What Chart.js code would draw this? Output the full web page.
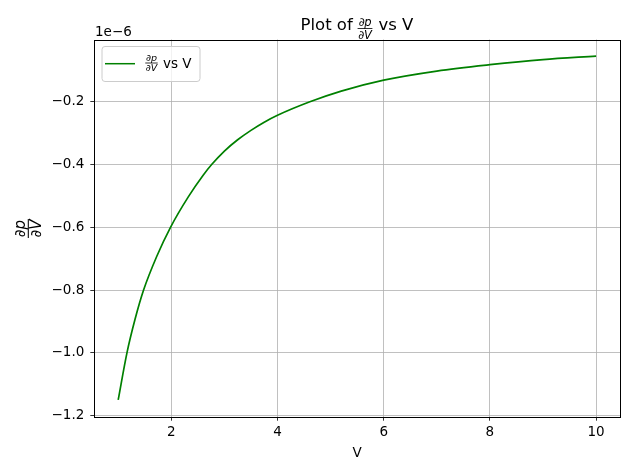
<!DOCTYPE html>
<html>
<head>
<meta charset="utf-8">
<script src="https://cdn.jsdelivr.net/npm/chart.js@4"></script>
<style>
  html, body { margin: 0; padding: 0; background: #ffffff; }
  #wrap { width: 630px; height: 470px; }
</style>
</head>
<body>
<div id="wrap"><canvas id="chart" width="630" height="470"></canvas></div>
<script>
// ==================== données ====================
// V values and dp/dV values (axis units: x 1e-6)
const volumes = [1.0, 1.165, 1.316, 1.478, 1.725, 1.985, 2.32, 2.6, 2.76, 3.0, 3.25, 3.5, 3.75, 4.0, 4.61, 5.2, 6.0, 7.0, 8.0, 9.0, 10.0];
const dpdV = [-1.15, -1.0, -0.894, -0.8, -0.693, -0.6, -0.503, -0.434, -0.4, -0.357, -0.321, -0.291, -0.265, -0.243, -0.2, -0.166, -0.131, -0.102, -0.0818, -0.0655, -0.0543];
const xTicks = [2, 4, 6, 8, 10];
const yTicks = [-1.2, -1.0, -0.8, -0.6, -0.4, -0.2];
const offsetText = "1e\u22126";

const FONT = "'DejaVu Sans', sans-serif";
const GREEN = "#008000";

// fraction dp/dV drawn like mathtext
function drawFrac(ctx, cx, barY, size) {
  ctx.font = "italic " + size + "px " + FONT;
  const num = "\u2202p", den = "\u2202V";
  const w = Math.max(ctx.measureText(num).width, ctx.measureText(den).width) + 1;
  ctx.textAlign = "center";
  ctx.textBaseline = "alphabetic";
  ctx.fillText(num, cx, barY - size * 0.2);
  ctx.textBaseline = "top";
  ctx.fillText(den, cx, barY + size * 0.12);
  ctx.lineWidth = Math.max(0.8, size * 0.07);
  ctx.beginPath();
  ctx.moveTo(cx - w / 2, barY);
  ctx.lineTo(cx + w / 2, barY);
  ctx.stroke();
  return w;
}

const decorPlugin = {
  id: "decor",
  afterDraw(chart) {
    const ctx = chart.ctx;
    const a = chart.chartArea;
    ctx.save();
    ctx.fillStyle = "#000";
    ctx.strokeStyle = "#000";

    // spines
    ctx.lineWidth = 1;
    ctx.strokeRect(Math.round(a.left) + 0.5, Math.round(a.top) + 0.5,
      Math.round(a.right - a.left), Math.round(a.bottom - a.top));

    // titre
    ctx.font = "16.5px " + FONT;
    ctx.textAlign = "left";
    ctx.textBaseline = "alphabetic";
    ctx.fillText("Plot of", 300.5, 30);
    drawFrac(ctx, 365, 28.5, 11.5);
    ctx.font = "16.5px " + FONT;
    ctx.textAlign = "left";
    ctx.textBaseline = "alphabetic";
    ctx.fillText("vs V", 378.5, 30);

    // offset text
    ctx.font = "13.5px " + FONT;
    ctx.fillText(offsetText, 95, 36);

    // x title
    ctx.textAlign = "center";
    ctx.fillText("V", 357, 457);

    // y title (rotated fraction)
    ctx.save();
    ctx.translate(28.3, 228.5);
    ctx.rotate(-Math.PI / 2);
    drawFrac(ctx, 0, 0, 15);
    ctx.restore();

    // legend
    ctx.fillStyle = "rgba(255,255,255,0.8)";
    ctx.strokeStyle = "#cccccc";
    ctx.lineWidth = 1;
    ctx.beginPath();
    ctx.roundRect(102, 46.5, 98, 35, 3);
    ctx.fill();
    ctx.stroke();
    ctx.strokeStyle = GREEN;
    ctx.lineWidth = 1.5;
    ctx.beginPath();
    ctx.moveTo(105, 63.7);
    ctx.lineTo(135, 63.7);
    ctx.stroke();
    ctx.fillStyle = "#000";
    ctx.strokeStyle = "#000";
    drawFrac(ctx, 151.5, 63, 9.5);
    ctx.font = "13.5px " + FONT;
    ctx.textAlign = "left";
    ctx.textBaseline = "middle";
    ctx.fillText("vs V", 163, 64.5);

    ctx.restore();
  }
};

const ctx = document.getElementById("chart").getContext("2d");
const chart = new Chart(ctx, {
  type: "scatter",
  data: {
    datasets: [
      {
        label: "\u2202p/\u2202V vs V",
        data: volumes.map((v, i) => ({ x: v, y: dpdV[i] })),
        showLine: true,
        borderColor: GREEN,
        backgroundColor: GREEN,
        borderWidth: 1.7,
        pointRadius: 0,
        cubicInterpolationMode: "monotone",
      },
    ],
  },
  options: {
    responsive: false,
    animation: false,
    layout: { padding: { left: 0, top: 39.5, right: 10, bottom: 0 } },
    plugins: {
      legend: { display: false },
      title: { display: false },
      tooltip: { enabled: false },
    },
    scales: {
      x: {
        type: "linear",
        min: 0.55,
        max: 10.45,
        afterFit(scale) { scale.height = 53.3; },
        afterBuildTicks(scale) { scale.ticks = xTicks.map(v => ({ value: v })); },
        grid: { color: "#b0b0b0", lineWidth: 0.8, tickColor: "#000", tickLength: 4 },
        border: { display: false },
        ticks: {
          color: "#000",
          font: { family: FONT, size: 13.5 },
          padding: 4,
          maxRotation: 0,
          callback: (v) => String(v),
        },
      },
      y: {
        type: "linear",
        min: -1.2035,
        max: -0.0015,
        afterFit(scale) { scale.width = 94.3; },
        afterBuildTicks(scale) { scale.ticks = yTicks.map(v => ({ value: v })); },
        grid: { color: "#b0b0b0", lineWidth: 0.8, tickColor: "#000", tickLength: 4 },
        border: { display: false },
        ticks: {
          color: "#000",
          font: { family: FONT, size: 13.5 },
          padding: 6,
          callback: (v) => "\u2212" + Math.abs(v).toFixed(1),
        },
      },
    },
  },
  plugins: [decorPlugin],
});
</script>
</body>
</html>
